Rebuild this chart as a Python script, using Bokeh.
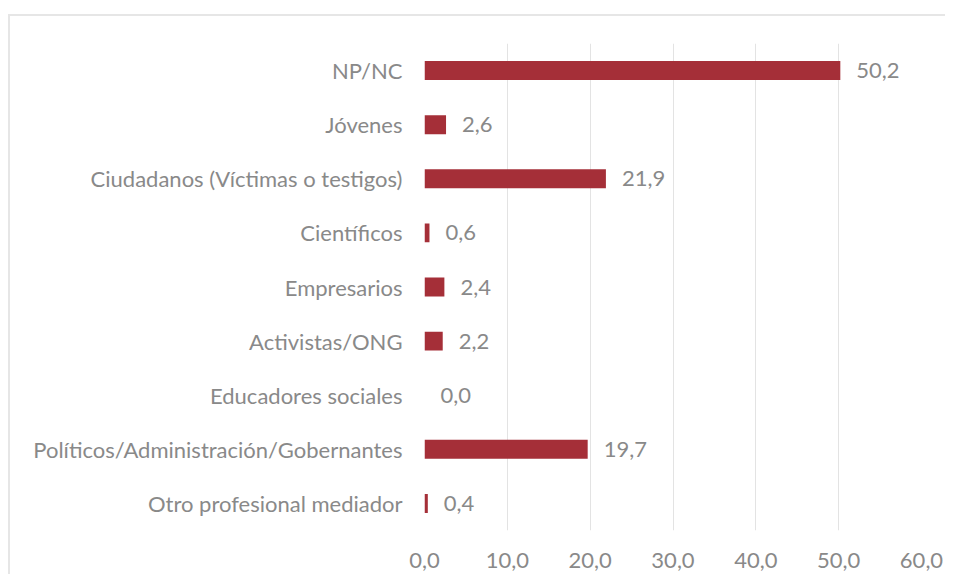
from bokeh.plotting import figure
from bokeh.models import ColumnDataSource, FactorRange, FixedTicker, Range1d
from bokeh.core.properties import value
from bokeh.embed import file_html
from bokeh.resources import INLINE

categories = ["NP/NC", "Jóvenes", "Ciudadanos (Víctimas o testigos)", "Científicos",
              "Empresarios", "Activistas/ONG", "Educadores sociales",
              "Políticos/Administración/Gobernantes", "Otro profesional mediador"]
values = [50.2, 2.6, 21.9, 0.6, 2.4, 2.2, 0.0, 19.7, 0.4]
value_labels = ["50,2", "2,6", "21,9", "0,6", "2,4", "2,2", "0,0", "19,7", "0,4"]
tick_values = [0, 10, 20, 30, 40, 50, 60]
tick_labels = ["0,0", "10,0", "20,0", "30,0", "40,0", "50,0", "60,0"]

FONT = "Lato"
FS = "22px"
TXT = "#898989"
BAR = "#A52F38"
GRID = "#e3e3e3"

src = ColumnDataSource(dict(cat=categories, val=values, lab=value_labels))

p = figure(width=937, height=560, output_backend="svg", toolbar_location=None,
           y_range=FactorRange(factors=list(reversed(categories))),
           x_range=Range1d(0, 60),
           min_border_left=414, min_border_right=26, min_border_top=27,
           min_border_bottom=46)
p.styles = {"border-top": "2px solid #e6e6e6", "border-left": "2px solid #e6e6e6",
            "margin-top": "14px", "margin-left": "8px"}
p.outline_line_color = None
p.background_fill_color = "white"
p.border_fill_color = "white"

p.hbar(y="cat", right="val", left=0, height=0.35, source=src,
       fill_color=BAR, line_color=None)
p.text(x="val", y="cat", text="lab", source=src, x_offset=16,
       text_align="left", text_baseline="middle",
       text_font=value(FONT), text_font_size=FS, text_color=TXT)

p.xaxis.ticker = FixedTicker(ticks=tick_values)
p.xaxis.major_label_overrides = {v: l for v, l in zip(tick_values, tick_labels)}
for ax in (p.xaxis, p.yaxis):
    ax.axis_line_color = None
    ax.major_tick_line_color = None
    ax.minor_tick_line_color = None
    ax.major_label_text_font = FONT
    ax.major_label_text_font_size = FS
    ax.major_label_text_color = TXT
p.xaxis.major_label_standoff = 16
p.yaxis.major_label_standoff = 16

p.xgrid.grid_line_color = GRID
p.xgrid.grid_line_width = 1
p.ygrid.grid_line_color = None

open("out.html", "w").write(file_html(p, INLINE))
